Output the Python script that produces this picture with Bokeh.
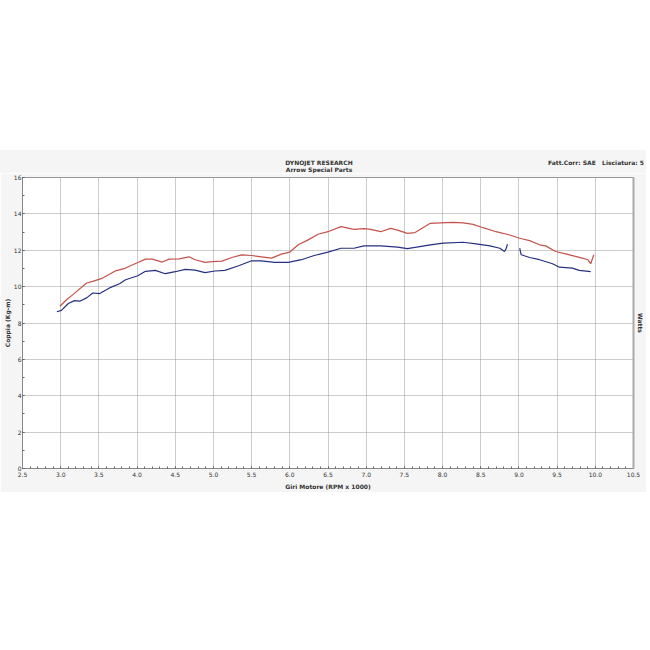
import math
from bokeh.plotting import figure
from bokeh.models import (SingleIntervalTicker, NumeralTickFormatter, LinearAxis,
                          FixedTicker, Range1d, Spacer, Div)
from bokeh.layouts import column
from bokeh.embed import file_html
from bokeh.resources import INLINE

nan = float("nan")

rpm_red = [2.99, 3.08, 3.16, 3.34, 3.42, 3.55, 3.72, 3.85, 4.01, 4.11, 4.20, 4.33, 4.42, 4.55,
           4.68, 4.76, 4.89, 4.98, 5.11, 5.24, 5.37, 5.50, 5.63, 5.76, 5.89, 6.00, 6.11, 6.24,
           6.37, 6.50, 6.67, 6.84, 6.97, 7.06, 7.19, 7.32, 7.41, 7.54, 7.64, 7.71, 7.84, 7.97,
           8.14, 8.27, 8.40, 8.53, 8.70, 8.88, 9.01, 9.14, 9.27, 9.35, 9.48, 9.61, 9.74, 9.83,
           9.90, 9.94, 9.98]
torque_red = [8.92, 9.29, 9.56, 10.2, 10.29, 10.47, 10.87, 11.02, 11.33, 11.51, 11.51, 11.35,
              11.51, 11.53, 11.64, 11.48, 11.33, 11.37, 11.4, 11.6, 11.75, 11.71, 11.64, 11.57,
              11.79, 11.9, 12.3, 12.57, 12.88, 13.02, 13.3, 13.15, 13.19, 13.15, 13.02, 13.2,
              13.11, 12.93, 12.97, 13.15, 13.48, 13.51, 13.53, 13.51, 13.42, 13.24, 13.02, 12.84,
              12.66, 12.53, 12.3, 12.24, 11.93, 11.8, 11.66, 11.57, 11.48, 11.26, 11.75]

rpm_blue = [2.95, 3.01, 3.10, 3.18, 3.25, 3.34, 3.42, 3.51, 3.64, 3.77, 3.85, 4.01, 4.11, 4.24,
            4.37, 4.50, 4.63, 4.76, 4.89, 5.02, 5.15, 5.33, 5.50, 5.63, 5.80, 5.98, 6.15, 6.32,
            6.50, 6.67, 6.84, 6.97, 7.19, 7.41, 7.54, 7.66, 7.84, 8.01, 8.27, 8.44, 8.62, 8.75,
            8.81, 8.83, 8.85, nan, 9.01, 9.03, 9.14, 9.27, 9.44, 9.53, 9.70, 9.79, 9.94]
torque_blue = [8.62, 8.69, 9.07, 9.23, 9.2, 9.38, 9.65, 9.62, 9.93, 10.16, 10.38, 10.6, 10.84,
               10.89, 10.71, 10.82, 10.95, 10.91, 10.77, 10.86, 10.89, 11.15, 11.42, 11.42,
               11.33, 11.33, 11.48, 11.71, 11.9, 12.11, 12.11, 12.24, 12.24, 12.17, 12.09, 12.17,
               12.3, 12.39, 12.44, 12.35, 12.24, 12.11, 11.93, 12.06, 12.33, nan, 12.11, 11.75,
               11.6, 11.48, 11.26, 11.07, 11.02, 10.89, 10.82]

title_1 = "DYNOJET RESEARCH"
title_2 = "Arrow Special Parts"
corr_text = "Fatt.Corr: SAE &nbsp; Lisciatura: 5"
x_label = "Giri Motore (RPM x 1000)"
y_label = "Coppia (Kg-m)"
y2_label = "Watts"

FONT = "DejaVu Sans"
TXT = "#333333"
PANEL = "#f5f5f5"
W = 646

header = Div(
    text=(
        f'<div style="position:relative;width:{W}px;height:23px;">'
        f'<div style="position:absolute;left:0;top:9px;width:{W - 8}px;text-align:center;'
        f'line-height:7px;">{title_1}<br>{title_2}</div>'
        f'<div style="position:absolute;right:2px;top:9px;line-height:7px;white-space:nowrap;">'
        f'{corr_text}</div></div>'
    ),
    width=W, height=23,
    styles={"background-color": PANEL, "font-family": FONT, "font-size": "6px",
            "font-weight": "bold", "color": TXT, "margin": "0", "padding": "0"},
)

p = figure(width=W, height=319, output_backend="svg", toolbar_location=None,
           x_range=Range1d(2.5, 10.5), y_range=Range1d(0, 16),
           min_border_top=4, min_border_bottom=22, min_border_left=8, min_border_right=0,
           background_fill_color="white", border_fill_color=PANEL)
p.outline_line_color = "#999999"

p.line(rpm_red, torque_red, line_color="#c4524c", line_width=1.2)
p.line(rpm_blue, torque_blue, line_color="#25317f", line_width=1.2)

p.xaxis.ticker = SingleIntervalTicker(interval=0.5, num_minor_ticks=5)
p.yaxis.ticker = SingleIntervalTicker(interval=2, num_minor_ticks=2)
p.xaxis.formatter = NumeralTickFormatter(format="0.0")

for ax in (p.xaxis[0], p.yaxis[0]):
    ax.major_label_text_font = FONT
    ax.major_label_text_font_size = "6px"
    ax.major_label_text_color = TXT
    ax.axis_label_text_font = FONT
    ax.axis_label_text_font_size = "6px"
    ax.axis_label_text_font_style = "bold"
    ax.axis_label_text_color = TXT
    ax.axis_line_color = "#888888"
    ax.major_tick_line_color = "#666666"
    ax.minor_tick_line_color = "#666666"
    ax.major_tick_in = 2
    ax.major_tick_out = 0
    ax.minor_tick_in = 2
    ax.minor_tick_out = 0
    ax.major_label_standoff = 1
    ax.axis_label_standoff = 0

p.xaxis.axis_label = x_label
p.yaxis.axis_label = y_label
p.xaxis.major_label_standoff = 3
p.xaxis.axis_label_standoff = 3

p.xgrid.ticker = SingleIntervalTicker(interval=0.5)
p.ygrid.ticker = SingleIntervalTicker(interval=2)
p.grid.grid_line_color = "#999999"
p.grid.grid_line_dash = "1 1"
p.grid.grid_line_width = 1

right_axis = LinearAxis(ticker=FixedTicker(ticks=[]), axis_label=y2_label,
                        axis_label_text_font=FONT, axis_label_text_font_size="6px",
                        axis_label_text_font_style="bold", axis_label_text_color=TXT,
                        axis_line_color="#aaaaaa", axis_line_width=2,
                        axis_label_standoff=3, major_tick_out=0, minor_tick_out=0,
                        major_tick_in=0, minor_tick_in=0, major_label_standoff=0,
                        major_label_text_font_size="1px")
p.add_layout(right_axis, "right")

layout = column(Spacer(width=W, height=150), header, p, spacing=0)
open("out.html", "w").write(file_html(layout, INLINE))
